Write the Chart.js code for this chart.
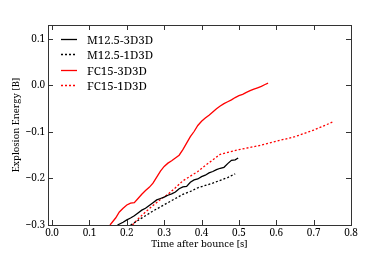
<!DOCTYPE html>
<html>
<head>
<meta charset="utf-8">
<script src="https://cdn.jsdelivr.net/npm/chart.js@4/dist/chart.umd.min.js"></script>
<style>
  html, body { margin: 0; padding: 0; background: #fff; }
</style>
</head>
<body>
<canvas id="chart" width="390" height="260"></canvas>
<script>
/* global Chart */
const xTicks = [0.0, 0.1, 0.2, 0.3, 0.4, 0.5, 0.6, 0.7, 0.8];
const yTicks = [-0.3, -0.2, -0.1, 0.0, 0.1];

// M12.5-3D3D
const m3Time = [0.175, 0.19, 0.20, 0.21, 0.22, 0.23, 0.24, 0.25, 0.26, 0.27, 0.28, 0.29, 0.30, 0.31, 0.32, 0.33, 0.34, 0.35, 0.36, 0.37, 0.38, 0.39, 0.40, 0.41, 0.42, 0.43, 0.44, 0.45, 0.46, 0.47, 0.48, 0.49, 0.498];
const m3Energy = [-0.300, -0.294, -0.289, -0.285, -0.280, -0.274, -0.268, -0.264, -0.258, -0.252, -0.246, -0.243, -0.240, -0.236, -0.233, -0.229, -0.222, -0.218, -0.217, -0.208, -0.203, -0.201, -0.196, -0.193, -0.188, -0.185, -0.181, -0.178, -0.176, -0.168, -0.161, -0.160, -0.156];

// M12.5-1D3D
const m1Time = [0.21, 0.23, 0.25, 0.27, 0.29, 0.31, 0.33, 0.35, 0.37, 0.39, 0.41, 0.43, 0.45, 0.47, 0.49];
const m1Energy = [-0.300, -0.290, -0.280, -0.270, -0.261, -0.252, -0.243, -0.234, -0.228, -0.220, -0.215, -0.210, -0.204, -0.198, -0.190];

// FC15-3D3D
const f3Time = [0.155, 0.17, 0.18, 0.19, 0.20, 0.21, 0.22, 0.23, 0.24, 0.25, 0.26, 0.27, 0.28, 0.29, 0.30, 0.31, 0.32, 0.33, 0.34, 0.35, 0.36, 0.37, 0.38, 0.39, 0.40, 0.41, 0.42, 0.43, 0.44, 0.45, 0.46, 0.47, 0.48, 0.49, 0.50, 0.51, 0.52, 0.53, 0.54, 0.55, 0.56, 0.57, 0.578];
const f3Energy = [-0.300, -0.285, -0.272, -0.264, -0.257, -0.253, -0.252, -0.243, -0.234, -0.226, -0.219, -0.210, -0.197, -0.184, -0.174, -0.167, -0.162, -0.156, -0.150, -0.138, -0.124, -0.110, -0.099, -0.086, -0.077, -0.070, -0.064, -0.057, -0.050, -0.044, -0.039, -0.035, -0.031, -0.026, -0.022, -0.019, -0.015, -0.011, -0.008, -0.005, -0.002, 0.002, 0.005];

// FC15-1D3D
const f1Time = [0.215, 0.23, 0.25, 0.27, 0.29, 0.31, 0.33, 0.35, 0.37, 0.39, 0.41, 0.43, 0.45, 0.47, 0.50, 0.55, 0.60, 0.65, 0.70, 0.75];
const f1Energy = [-0.300, -0.287, -0.272, -0.258, -0.245, -0.234, -0.220, -0.205, -0.195, -0.185, -0.172, -0.160, -0.148, -0.144, -0.138, -0.130, -0.120, -0.110, -0.096, -0.079];

const SERIF = "'Noto Serif', 'Liberation Serif', serif";
const fmt = (v) => (Math.abs(v) < 1e-9 ? 0 : v).toFixed(1).replace('-', '\u2212');
const pts = (ts, es) => ts.map((t, i) => ({ x: t, y: es[i] }));

function series(label, ts, es, color, dotted) {
  return {
    label,
    data: pts(ts, es),
    borderColor: color,
    backgroundColor: color,
    borderWidth: 1.3,
    borderDash: dotted ? [2, 2] : [],
    pointRadius: 0,
    tension: 0,
    fill: false,
  };
}

// frame, inward ticks on all sides, legend in upper left
const decor = {
  id: 'decor',
  afterDatasetsDraw(chart) {
    const { ctx, chartArea: a, scales } = chart;
    ctx.save();
    ctx.strokeStyle = '#333';
    ctx.lineWidth = 1;
    ctx.strokeRect(Math.round(a.left) + 0.5, Math.round(a.top) + 0.5, Math.round(a.right - a.left), Math.round(a.bottom - a.top));
    const len = 5;
    ctx.beginPath();
    xTicks.forEach((v) => {
      const px = Math.round(scales.x.getPixelForValue(v)) + 0.5;
      ctx.moveTo(px, a.bottom); ctx.lineTo(px, a.bottom - len);
      ctx.moveTo(px, a.top); ctx.lineTo(px, a.top + len);
    });
    yTicks.forEach((v) => {
      const py = Math.round(scales.y.getPixelForValue(v)) + 0.5;
      ctx.moveTo(a.left, py); ctx.lineTo(a.left + len, py);
      ctx.moveTo(a.right, py); ctx.lineTo(a.right - len, py);
    });
    ctx.stroke();

    // legend
    ctx.font = `11.5px ${SERIF}`;
    ctx.textBaseline = 'middle';
    ctx.fillStyle = '#000';
    chart.data.datasets.forEach((ds, i) => {
      const y = Math.round(a.top + 14 + i * 15.4) + 0.5;
      ctx.strokeStyle = ds.borderColor;
      ctx.lineWidth = ds.borderWidth;
      ctx.setLineDash(ds.borderDash);
      ctx.beginPath();
      ctx.moveTo(a.left + 13, y); ctx.lineTo(a.left + 29, y);
      ctx.stroke();
      ctx.setLineDash([]);
      ctx.fillText(ds.label, a.left + 39, y + 1);
    });
    ctx.restore();
  },
};

new Chart(document.getElementById('chart'), {
  type: 'line',
  data: {
    datasets: [
      series('M12.5-3D3D', m3Time, m3Energy, '#000000', false),
      series('M12.5-1D3D', m1Time, m1Energy, '#000000', true),
      series('FC15-3D3D', f3Time, f3Energy, '#ff0000', false),
      series('FC15-1D3D', f1Time, f1Energy, '#ff0000', true),
    ],
  },
  options: {
    responsive: false,
    animation: false,
    layout: { padding: { left: 0, right: 39, top: 25, bottom: 0 } },
    plugins: { legend: { display: false }, tooltip: { enabled: false } },
    scales: {
      x: {
        type: 'linear',
        min: -0.011,
        max: 0.8,
        afterBuildTicks: (s) => { s.ticks = xTicks.map((v) => ({ value: v })); },
        afterFit: (s) => { s.height = 35; },
        grid: { display: false, drawTicks: false },
        border: { display: false },
        ticks: { callback: fmt, color: '#000', font: { family: SERIF, size: 10 }, padding: 2, maxRotation: 0, autoSkip: false },
        title: { display: true, text: 'Time after bounce [s]', color: '#000', font: { family: SERIF, size: 9.5 }, padding: { top: 0, bottom: 10 } },
      },
      y: {
        type: 'linear',
        min: -0.3,
        max: 0.13,
        afterBuildTicks: (s) => { s.ticks = yTicks.map((v) => ({ value: v })); },
        afterFit: (s) => { s.width = 48; },
        grid: { display: false, drawTicks: false },
        border: { display: false },
        ticks: { callback: fmt, color: '#000', font: { family: SERIF, size: 10 }, padding: 3, autoSkip: false },
        title: { display: true, text: 'Explosion Energy [B]', color: '#000', font: { family: SERIF, size: 9.5 }, padding: { top: 11, bottom: 0 } },
      },
    },
  },
  plugins: [decor],
});
</script>
</body>
</html>
